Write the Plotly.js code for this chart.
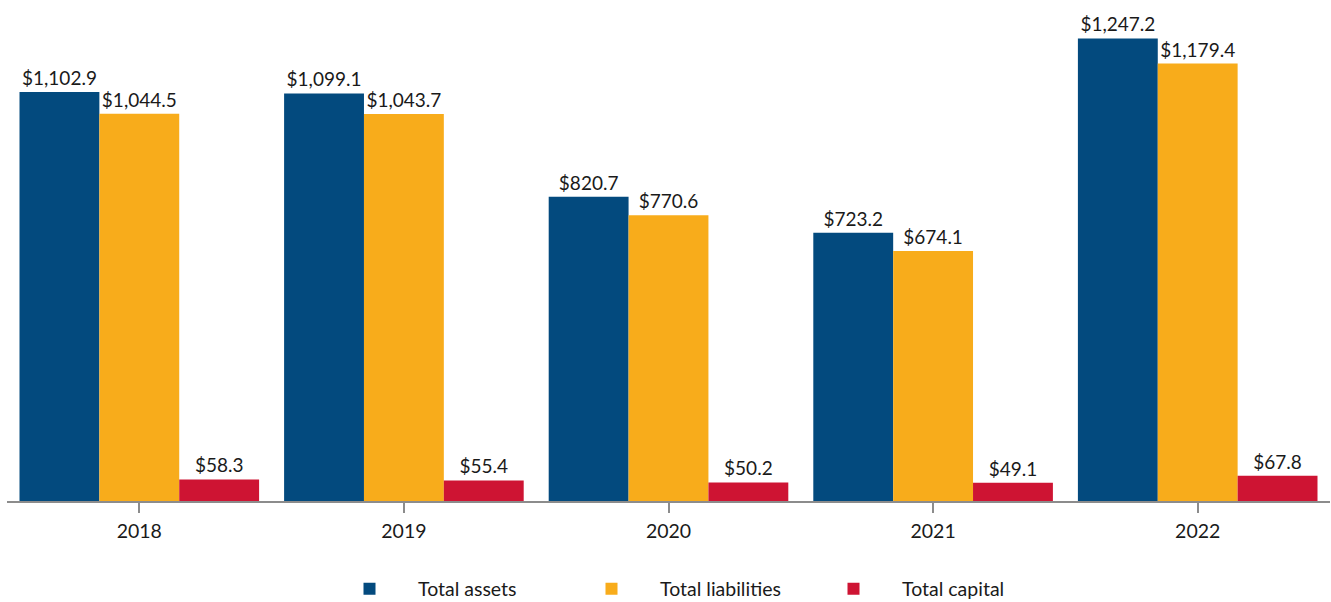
<!DOCTYPE html>
<html>
<head>
<meta charset="utf-8">
<script src="https://cdn.plot.ly/plotly-3.0.1.min.js"></script>
<style>html,body{margin:0;padding:0;background:#fff;}#chart{width:1331px;height:602px;}</style>
</head>
<body>
<div id="chart"></div>
<script>
const years = ['2018', '2019', '2020', '2021', '2022'];
const totalAssets = [1102.9, 1099.1, 820.7, 723.2, 1247.2];
const totalLiabilities = [1044.5, 1043.7, 770.6, 674.1, 1179.4];
const totalCapital = [58.3, 55.4, 50.2, 49.1, 67.8];
const seriesNames = ['Total assets', 'Total liabilities', 'Total capital'];
const seriesColors = ['#034A7E', '#F8AC1B', '#CE1433'];

const FONT = 'Lato, "Open Sans", sans-serif';
function mk(name, vals, color) {
  return {
    type: 'bar', name: name, x: years, y: vals,
    marker: {color: color, line: {width: 0}},
    texttemplate: '$%{y:,.1f}', textposition: 'outside',
    textfont: {family: FONT, size: 19, color: '#1a1a1a'},
    cliponaxis: false, constraintext: 'none',
    hoverinfo: 'skip'
  };
}
const data = [
  mk(seriesNames[0], totalAssets, seriesColors[0]),
  mk(seriesNames[1], totalLiabilities, seriesColors[1]),
  mk(seriesNames[2], totalCapital, seriesColors[2])
];
const layout = {
  width: 1331, height: 602,
  margin: {l: 7, r: 1, t: 11, b: 101, autoexpand: false},
  paper_bgcolor: '#fff', plot_bgcolor: '#fff',
  barmode: 'group', bargap: 0.0945, bargroupgap: 0,
  font: {family: FONT, color: '#1a1a1a'},
  xaxis: {
    type: 'category', showgrid: false, zeroline: false, automargin: false,
    showline: true, linecolor: '#8c8c8c', linewidth: 2,
    ticks: 'outside', ticklen: 10, tickwidth: 2, tickcolor: '#8c8c8c',
    ticklabelstandoff: 2,
    tickfont: {family: FONT, size: 19.5, color: '#1a1a1a'},
    fixedrange: true
  },
  yaxis: {
    range: [0, 1321.3], visible: false, showgrid: false, zeroline: false, fixedrange: true, automargin: false
  },
  showlegend: true,
  legend: {
    orientation: 'h', xref: 'container', yref: 'container',
    x: 321 / 1331, xanchor: 'left', y: 1 - 589 / 602, yanchor: 'middle',
    font: {family: FONT, size: 19.5, color: '#1a1a1a'},
    itemwidth: 87,
    entrywidth: 140, entrywidthmode: 'pixels',
    traceorder: 'normal', bgcolor: 'rgba(0,0,0,0)'
  }
};
Plotly.newPlot('chart', data, layout, {displayModeBar: false, staticPlot: true});
</script>
</body>
</html>
